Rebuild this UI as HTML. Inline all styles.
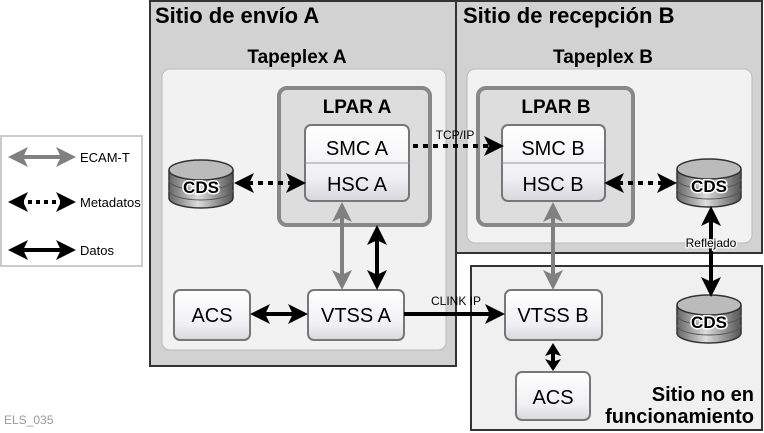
<!DOCTYPE html>
<html><head><meta charset="utf-8"><style>
html,body{margin:0;padding:0;background:#fff;}
svg{display:block;font-family:"Liberation Sans",sans-serif;}
</style></head><body>
<svg width="764" height="433" viewBox="0 0 764 433" xmlns="http://www.w3.org/2000/svg">
<defs>
<linearGradient id="nb" x1="0" y1="0" x2="0" y2="1"><stop offset="0" stop-color="#ffffff"/><stop offset="0.7" stop-color="#f0f0f4"/><stop offset="1" stop-color="#d8d8dc"/></linearGradient>
<linearGradient id="cyl" x1="0" y1="0" x2="1" y2="0"><stop offset="0" stop-color="#666"/><stop offset="0.45" stop-color="#ddd"/><stop offset="1" stop-color="#555"/></linearGradient>
<marker id="ag" markerWidth="5" markerHeight="5" refX="4" refY="2.5" orient="auto-start-reverse" markerUnits="strokeWidth"><path d="M0,0 L5,2.5 L0,5 L1.2,2.5 Z" fill="#808080"/></marker>
<marker id="ab" markerWidth="5" markerHeight="5" refX="4" refY="2.5" orient="auto-start-reverse" markerUnits="strokeWidth"><path d="M0,0 L5,2.5 L0,5 L1.2,2.5 Z" fill="#000"/></marker>
<g id="cds"><path d="M0,10 L0,38 A32,10 0 0 0 64,38 L64,10" fill="url(#cyl)" stroke="#333" stroke-width="1.5"/><path d="M0,20 A32,10 0 0 0 64,20 M0,30 A32,10 0 0 0 64,30" fill="none" stroke="#555"/><ellipse cx="32" cy="10" rx="32" ry="10" fill="#bbb" stroke="#333" stroke-width="1.5"/><text x="32" y="33" text-anchor="middle" font-size="17" font-weight="bold" fill="#000" stroke="#fff" stroke-width="3" paint-order="stroke">CDS</text></g>
</defs>
<rect x="1" y="136" width="141" height="130" fill="#fff" stroke="#ccc" stroke-width="2"/>
<line x1="12" y1="157" x2="72" y2="157" stroke="#808080" stroke-width="4" marker-start="url(#ag)" marker-end="url(#ag)"/>
<text x="80" y="162" font-size="13">ECAM-T</text>
<line x1="12" y1="202" x2="72" y2="202" stroke="#000" stroke-width="4" stroke-dasharray="4,4" marker-start="url(#ab)" marker-end="url(#ab)"/>
<text x="80" y="207" font-size="13">Metadatos</text>
<line x1="12" y1="250" x2="72" y2="250" stroke="#000" stroke-width="4" marker-start="url(#ab)" marker-end="url(#ab)"/>
<text x="80" y="255" font-size="13">Datos</text>
<text x="4" y="424" font-size="12" fill="#999">ELS_035</text>
<rect x="150" y="1" width="306" height="365" fill="#d2d2d2" stroke="#333" stroke-width="2"/>
<rect x="456" y="1" width="306" height="252" fill="#d2d2d2" stroke="#333" stroke-width="2"/>
<rect x="471" y="266" width="291" height="164" fill="#f0f0f0" stroke="#333" stroke-width="2"/>
<text x="155" y="23" font-size="22" font-weight="bold">Sitio de envío A</text>
<text x="463" y="23" font-size="22" font-weight="bold">Sitio de recepción B</text>
<text x="754" y="401" font-size="20" font-weight="bold" text-anchor="end">Sitio no en</text>
<text x="754" y="423" font-size="20" font-weight="bold" text-anchor="end">funcionamiento</text>
<rect x="162" y="69" width="284" height="281" rx="8" fill="#f2f2f2" stroke="#bbb"/>
<rect x="467" y="69" width="285" height="174" rx="8" fill="#f2f2f2" stroke="#bbb"/>
<text x="297" y="63" font-size="19" font-weight="bold" text-anchor="middle">Tapeplex A</text>
<text x="603" y="63" font-size="19" font-weight="bold" text-anchor="middle">Tapeplex B</text>
<rect x="279" y="88" width="151" height="137" rx="8" fill="#ddd" stroke="#888" stroke-width="4"/>
<rect x="478" y="88" width="155" height="137" rx="8" fill="#ddd" stroke="#888" stroke-width="4"/>
<text x="357" y="113" font-size="19" font-weight="bold" text-anchor="middle">LPAR A</text>
<text x="556" y="113" font-size="19" font-weight="bold" text-anchor="middle">LPAR B</text>
<rect x="305" y="125" width="104" height="76" rx="6" fill="url(#nb)" stroke="#777" stroke-width="2"/>
<line x1="305" y1="163" x2="409" y2="163" stroke="#999"/>
<text x="357" y="155" font-size="20" text-anchor="middle">SMC A</text>
<text x="357" y="191" font-size="20" text-anchor="middle">HSC A</text>
<rect x="502" y="125" width="103" height="76" rx="6" fill="url(#nb)" stroke="#777" stroke-width="2"/>
<line x1="502" y1="163" x2="605" y2="163" stroke="#999"/>
<text x="553" y="155" font-size="20" text-anchor="middle">SMC B</text>
<text x="553" y="191" font-size="20" text-anchor="middle">HSC B</text>
<rect x="174" y="290" width="76" height="50" rx="6" fill="url(#nb)" stroke="#777" stroke-width="2"/>
<text x="212" y="322" font-size="20" text-anchor="middle">ACS</text>
<rect x="308" y="290" width="96" height="50" rx="6" fill="url(#nb)" stroke="#777" stroke-width="2"/>
<text x="356" y="322" font-size="20" text-anchor="middle">VTSS A</text>
<rect x="505" y="290" width="97" height="50" rx="6" fill="url(#nb)" stroke="#777" stroke-width="2"/>
<text x="553" y="322" font-size="20" text-anchor="middle">VTSS B</text>
<rect x="516" y="372" width="74" height="48" rx="6" fill="url(#nb)" stroke="#777" stroke-width="2"/>
<text x="553" y="404" font-size="20" text-anchor="middle">ACS</text>
<use href="#cds" x="169" y="160"/>
<use href="#cds" x="677" y="159"/>
<use href="#cds" x="677" y="295"/>
<line x1="238" y1="183" x2="302" y2="183" stroke="#000" stroke-width="4" stroke-dasharray="5,5" marker-start="url(#ab)" marker-end="url(#ab)"/>
<line x1="413" y1="146" x2="500" y2="146" stroke="#000" stroke-width="4" stroke-dasharray="5,5" marker-end="url(#ab)"/>
<text x="455" y="139" font-size="12" text-anchor="middle">TCP/IP</text>
<line x1="608" y1="183" x2="673" y2="183" stroke="#000" stroke-width="4" stroke-dasharray="5,5" marker-start="url(#ab)" marker-end="url(#ab)"/>
<line x1="342" y1="206" x2="342" y2="286" stroke="#808080" stroke-width="4" marker-start="url(#ag)" marker-end="url(#ag)"/>
<line x1="377" y1="229" x2="377" y2="286" stroke="#000" stroke-width="4" marker-start="url(#ab)" marker-end="url(#ab)"/>
<line x1="553" y1="206" x2="553" y2="286" stroke="#808080" stroke-width="4" marker-start="url(#ag)" marker-end="url(#ag)"/>
<line x1="254" y1="314" x2="304" y2="314" stroke="#000" stroke-width="4" marker-start="url(#ab)" marker-end="url(#ab)"/>
<line x1="404" y1="314" x2="501" y2="314" stroke="#000" stroke-width="4" marker-end="url(#ab)"/>
<text x="456" y="305" font-size="12" text-anchor="middle">CLINK IP</text>
<path d="M553,343 L561,356 L555,354 L555,361 L561,359 L553,371 L545,359 L551,361 L551,354 L545,356 Z" fill="#000"/>
<line x1="711" y1="210" x2="711" y2="293" stroke="#000" stroke-width="4" marker-start="url(#ab)" marker-end="url(#ab)"/>
<text x="711" y="247" font-size="12" text-anchor="middle" stroke="#f2f2f2" stroke-width="3" paint-order="stroke">Reflejado</text>
</svg>
</body></html>
